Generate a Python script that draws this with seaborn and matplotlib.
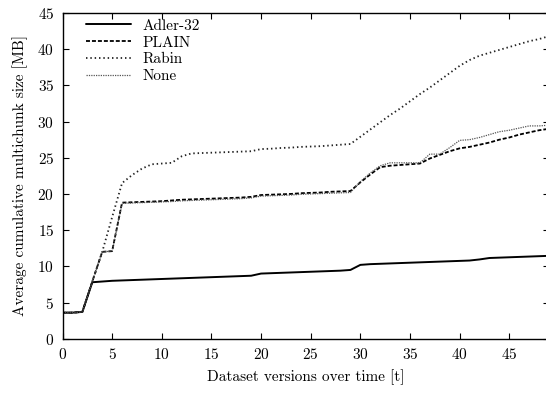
import numpy as np
import pandas as pd
import matplotlib
matplotlib.use("Agg")
import matplotlib.pyplot as plt
import seaborn as sns

versions = list(range(0, 50))
adler = [3.6, 3.6, 3.7, 7.8, 7.9, 8.0, 8.05, 8.1, 8.15, 8.2, 8.25, 8.3, 8.35, 8.4, 8.45,
         8.5, 8.55, 8.6, 8.65, 8.7, 9.0, 9.05, 9.1, 9.15, 9.2, 9.25, 9.3, 9.35, 9.4, 9.5,
         10.2, 10.3, 10.35, 10.4, 10.45, 10.5, 10.55, 10.6, 10.65, 10.7, 10.75, 10.8, 10.95,
         11.15, 11.2, 11.25, 11.3, 11.35, 11.4, 11.45]
plain = [3.6, 3.6, 3.7, 7.9, 12.0, 12.1, 18.8, 18.85, 18.9, 18.95, 19.0, 19.1, 19.2, 19.25,
         19.3, 19.35, 19.4, 19.45, 19.5, 19.6, 19.85, 19.9, 19.95, 20.0, 20.1, 20.15, 20.2,
         20.3, 20.35, 20.4, 21.6, 22.7, 23.7, 23.9, 24.0, 24.1, 24.2, 24.9, 25.4, 25.9, 26.3,
         26.5, 26.8, 27.1, 27.5, 27.8, 28.2, 28.5, 28.8, 29.0]
rabin = [3.6, 3.6, 3.7, 7.9, 12.0, 16.8, 21.5, 22.6, 23.5, 24.1, 24.2, 24.3, 25.2, 25.6,
         25.65, 25.7, 25.75, 25.8, 25.85, 25.9, 26.2, 26.25, 26.35, 26.4, 26.5, 26.55, 26.6,
         26.7, 26.8, 26.9, 27.9, 28.9, 29.9, 30.9, 31.8, 32.8, 33.8, 34.7, 35.7, 36.7, 37.7,
         38.5, 39.1, 39.5, 39.9, 40.3, 40.7, 41.1, 41.4, 41.8]
none = [3.6, 3.6, 3.7, 7.9, 12.0, 12.1, 18.7, 18.75, 18.8, 18.85, 18.9, 18.95, 19.05, 19.1,
        19.15, 19.2, 19.25, 19.3, 19.35, 19.45, 19.7, 19.75, 19.8, 19.85, 19.95, 20.0, 20.05,
        20.1, 20.15, 20.2, 21.7, 22.9, 23.9, 24.3, 24.3, 24.3, 24.3, 25.5, 25.5, 26.4, 27.4,
        27.5, 27.8, 28.2, 28.6, 28.8, 29.1, 29.4, 29.4, 29.5]
series_names = ["Adler-32", "PLAIN", "Rabin", "None"]
x_ticks = [0, 5, 10, 15, 20, 25, 30, 35, 40, 45]
y_ticks = [0, 5, 10, 15, 20, 25, 30, 35, 40, 45]

sns.set_theme(style="ticks")
plt.rcParams["font.family"] = ["cmr10", "DejaVu Serif"]
plt.rcParams["axes.formatter.use_mathtext"] = True
plt.rcParams["mathtext.fontset"] = "cm"
plt.rcParams["text.color"] = "black"
plt.rcParams["axes.labelcolor"] = "black"

fig = plt.figure(figsize=(5.46, 3.95), dpi=100)
W, H = 546, 395
left_px, right_px = 62.5, 549.0
top_px, bot_px = 13, 338.7
ax = fig.add_axes([left_px / W, 1 - bot_px / H, (right_px - left_px) / W, (bot_px - top_px) / H])

data = {"Adler-32": adler, "PLAIN": plain, "Rabin": rabin, "None": none}
styles = {
    "Adler-32": dict(color="black", lw=1.4, linestyle="-"),
    "PLAIN": dict(color="black", lw=1.3, linestyle=(0, (2.2, 1.1))),
    "Rabin": dict(color="#222222", lw=1.3, linestyle=(0, (0.8, 1.6))),
    "None": dict(color="#555555", lw=0.9, linestyle=(0, (1.0, 0.9))),
}
for name in series_names:
    df = pd.DataFrame({"t": versions, "v": data[name]})
    sns.lineplot(data=df, x="t", y="v", ax=ax, label=name, **styles[name])

ax.set_xlim(0, 49)
ax.set_ylim(0, 45)
ax.set_xticks(x_ticks)
ax.set_yticks(y_ticks)
ax.tick_params(direction="in", length=4, width=0.8, top=True, right=True,
               labelsize=11, colors="black", pad=6)
for s in ax.spines.values():
    s.set_linewidth(1.0)
    s.set_color("black")
ax.spines["right"].set_visible(False)
ax.set_xlabel("Dataset versions over time [t]", fontsize=11, labelpad=5, color="black")
ax.set_ylabel("Average cumulative multichunk size [MB]", fontsize=11, labelpad=7, color="black")

leg = ax.legend(loc="upper left", frameon=False, fontsize=11, handlelength=3.0,
                handletextpad=0.75, labelspacing=0.2, borderaxespad=0.0,
                bbox_to_anchor=(0.035, 1.0))
for t in leg.get_texts():
    t.set_color("black")

fig.savefig("out.png", dpi=100)
